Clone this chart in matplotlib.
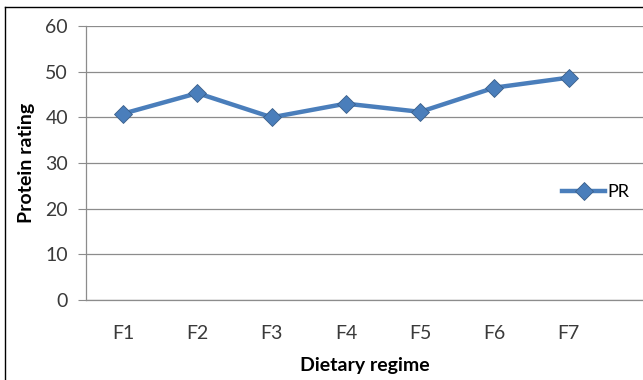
import matplotlib.pyplot as plt
from matplotlib.lines import Line2D

# Data
categories = ["F1", "F2", "F3", "F4", "F5", "F6", "F7"]
pr_values = [40.8, 45.3, 40.0, 43.0, 41.2, 46.5, 48.7]
yticks = [0, 10, 20, 30, 40, 50, 60]

plt.rcParams['font.family'] = ['Lato', 'DejaVu Sans']

fig = plt.figure(figsize=(6.43, 3.8), dpi=100)
ax = fig.add_axes([86 / 643, 1 - 300 / 380, 1 - 86 / 643, (300 - 26) / 380])

x = list(range(1, len(categories) + 1))
line_color = '#4a7ebb'
ax.plot(x, pr_values, color=line_color, linewidth=3.2, marker='D', markersize=9,
        markerfacecolor=line_color, markeredgecolor='#3a5f8a', markeredgewidth=0.6,
        label='PR', zorder=3)

ax.set_xlim(0.5, 8.0)
ax.set_ylim(0, 60)
ax.set_yticks(yticks)
ax.set_xticks(x)
ax.set_xticklabels(categories)

ax.grid(axis='y', color='#8c8c8c', linewidth=0.9)
ax.set_axisbelow(True)
for side in ['top', 'right']:
    ax.spines[side].set_visible(False)
for side in ['left', 'bottom']:
    ax.spines[side].set_color('#8c8c8c')
    ax.spines[side].set_linewidth(0.9)

ax.tick_params(axis='y', length=6, color='#8c8c8c', pad=7, labelsize=14, labelcolor='#3a3a3a')
ax.tick_params(axis='x', length=0, pad=18, labelsize=14, labelcolor='#3a3a3a')

ax.set_xlabel('Dietary regime', fontsize=14, fontweight='bold', labelpad=11)
ax.set_ylabel('Protein rating', fontsize=14, fontweight='bold', labelpad=7)

ax.legend(loc='center left', bbox_to_anchor=(562 / 643, 1 - 192 / 380),
          bbox_transform=fig.transFigure, frameon=False, fontsize=13,
          handlelength=2.4, handletextpad=0.1, borderpad=0, borderaxespad=0)

# outer border (cropped chart frame)
fig.add_artist(Line2D([5 / 643, 5 / 643], [0, 1 - 7 / 380], transform=fig.transFigure, color='black', linewidth=1))
fig.add_artist(Line2D([5 / 643, 1], [1 - 7 / 380, 1 - 7 / 380], transform=fig.transFigure, color='black', linewidth=1))

fig.savefig('out.png', dpi=100)
